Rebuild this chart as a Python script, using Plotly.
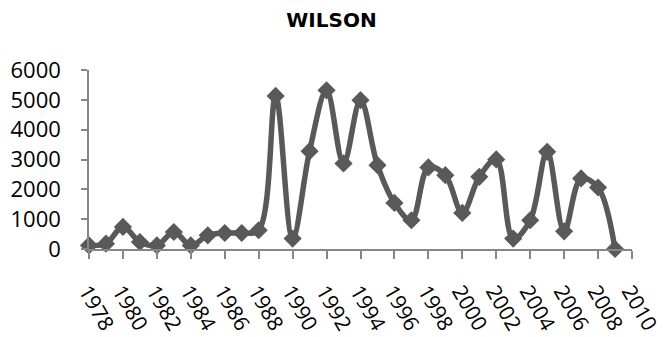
import plotly.graph_objects as go

years = list(range(1978, 2010))
values = [120, 180, 740, 235, 120, 570, 120, 460, 537, 537, 628, 5130,
          350, 3280, 5320, 2870, 4990, 2810, 1545, 964, 2733, 2475,
          1209, 2418, 3002, 349, 964, 3258, 594, 2364, 2062, 0]
x_ticks = list(range(1978, 2011, 2))
y_ticks = [0, 1000, 2000, 3000, 4000, 5000, 6000]
title_text = "WILSON"

line_color = "#595959"
axis_color = "#868686"
font_family = "Open Sans, DejaVu Sans, sans-serif"

fig = go.Figure()
fig.add_trace(go.Scatter(
    x=years, y=values, mode="lines+markers",
    line=dict(color=line_color, width=5.5, shape="spline", smoothing=1.0),
    marker=dict(symbol="diamond", size=14, color=line_color),
    cliponaxis=False, showlegend=False,
))

fig.update_layout(
    width=663, height=337,
    margin=dict(l=89, r=31, t=70, b=88, autoexpand=False),
    paper_bgcolor="white", plot_bgcolor="white",
    title=dict(text="<b>" + title_text + "</b>", x=0.5, xref="container", xanchor="center",
               y=1 - 20 / 337, yref="container", yanchor="middle",
               font=dict(family="DejaVu Sans, sans-serif", size=20, color="black")),
    font=dict(family=font_family, color="black"),
)
fig.update_xaxes(
    range=[1978, 2010], tickvals=x_ticks, ticktext=[str(v) for v in x_ticks],
    tickangle=60, showgrid=False, zeroline=False, automargin=False,
    ticklabeloverflow="allow",
    showline=True, linecolor=axis_color, linewidth=1.5,
    ticks="outside", ticklen=8, tickcolor=axis_color, tickwidth=1.5,
    tickfont=dict(size=21, family=font_family, color="black"),
    ticklabelstandoff=12, ticklabelshift=-2,
)
fig.update_yaxes(
    range=[0, 6000], tickvals=y_ticks, showgrid=False, zeroline=False, automargin=False,
    showline=True, linecolor=axis_color, linewidth=1.5,
    ticks="outside", ticklen=6, tickcolor=axis_color, tickwidth=1.5,
    tickfont=dict(size=22, family=font_family, color="black"),
    ticklabelstandoff=16,
)

fig.write_html("out.html", config={"displayModeBar": False},
               post_script="document.body.style.margin='0';document.body.style.overflow='hidden';")
